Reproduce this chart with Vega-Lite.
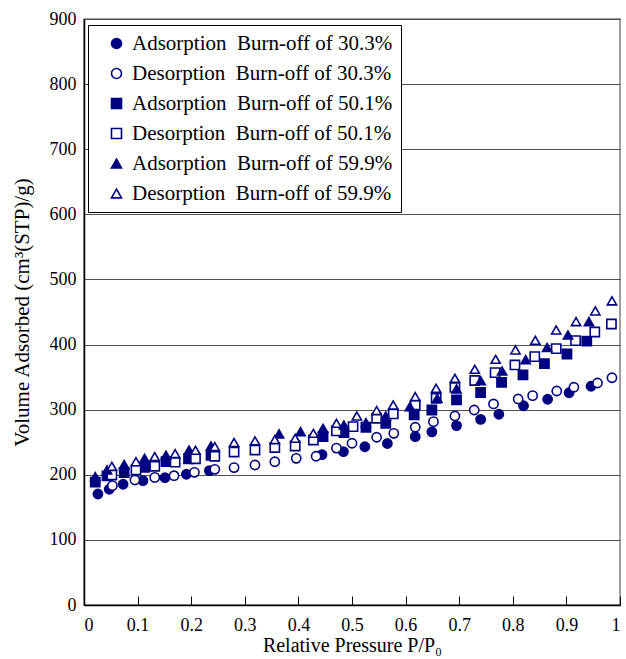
{
  "$schema": "https://vega.github.io/schema/vega-lite/v6.json",
  "autosize": "none",
  "width": 536,
  "height": 586,
  "padding": {"left": 84, "top": 19, "right": 6, "bottom": 54},
  "background": "white",
  "config": {
    "view": {"stroke": "#808080", "strokeWidth": 1.5},
    "font": "Liberation Serif",
    "axis": {
      "labelFont": "Liberation Serif",
      "titleFont": "Liberation Serif",
      "labelColor": "black",
      "titleColor": "black",
      "titleFontWeight": "normal",
      "labelFontSize": 18,
      "titleFontSize": 21,
      "domainColor": "black",
      "domainWidth": 1.5,
      "tickColor": "black"
    },
    "legend": {
      "title": null,
      "orient": "none",
      "legendX": 4,
      "legendY": 6,
      "strokeColor": "black",
      "fillColor": "white",
      "padding": 8,
      "symbolOffset": 10,
      "symbolSize": 100,
      "symbolStrokeColor": "#000080",
      "symbolStrokeWidth": 1.6,
      "labelFont": "Liberation Serif",
      "labelFontSize": 21,
      "labelColor": "black",
      "labelOffset": 5,
      "labelLimit": 400,
      "rowPadding": 8
    }
  },
  "data": {
    "values": [
      {"s":"a30","x":0.026,"y":170.5},{"s":"a30","x":0.047,"y":177.7},{"s":"a30","x":0.073,"y":185.4},{"s":"a30","x":0.11,"y":191},{"s":"a30","x":0.151,"y":195.5},{"s":"a30","x":0.191,"y":200.8},{"s":"a30","x":0.234,"y":206.3},{"s":"a30","x":0.444,"y":231},{"s":"a30","x":0.484,"y":235.5},{"s":"a30","x":0.524,"y":243},{"s":"a30","x":0.566,"y":248},{"s":"a30","x":0.618,"y":258.5},{"s":"a30","x":0.649,"y":266},{"s":"a30","x":0.695,"y":275.5},{"s":"a30","x":0.74,"y":285},{"s":"a30","x":0.774,"y":293},{"s":"a30","x":0.82,"y":306},{"s":"a30","x":0.865,"y":316},{"s":"a30","x":0.905,"y":326},{"s":"a30","x":0.946,"y":336},
      {"s":"d30","x":0.053,"y":183.3},{"s":"d30","x":0.095,"y":192},{"s":"d30","x":0.132,"y":196},{"s":"d30","x":0.168,"y":198.6},{"s":"d30","x":0.206,"y":203.8},{"s":"d30","x":0.244,"y":208.4},{"s":"d30","x":0.28,"y":211},{"s":"d30","x":0.319,"y":215},{"s":"d30","x":0.356,"y":220},{"s":"d30","x":0.396,"y":225.3},{"s":"d30","x":0.433,"y":228.5},{"s":"d30","x":0.471,"y":241},{"s":"d30","x":0.5,"y":248.4},{"s":"d30","x":0.546,"y":257.6},{"s":"d30","x":0.578,"y":263.7},{"s":"d30","x":0.618,"y":273},{"s":"d30","x":0.652,"y":281.6},{"s":"d30","x":0.692,"y":290.3},{"s":"d30","x":0.728,"y":299.5},{"s":"d30","x":0.764,"y":308.8},{"s":"d30","x":0.81,"y":316.4},{"s":"d30","x":0.837,"y":321.5},{"s":"d30","x":0.882,"y":328.7},{"s":"d30","x":0.914,"y":334.4},{"s":"d30","x":0.958,"y":341},{"s":"d30","x":0.985,"y":349},
      {"s":"a50","x":0.021,"y":188.6},{"s":"a50","x":0.043,"y":198.2},{"s":"a50","x":0.075,"y":203.5},{"s":"a50","x":0.113,"y":211.5},{"s":"a50","x":0.153,"y":220.1},{"s":"a50","x":0.195,"y":224.6},{"s":"a50","x":0.237,"y":230},{"s":"a50","x":0.446,"y":258.5},{"s":"a50","x":0.485,"y":264.7},{"s":"a50","x":0.526,"y":273},{"s":"a50","x":0.563,"y":279.1},{"s":"a50","x":0.616,"y":291.9},{"s":"a50","x":0.649,"y":299.5},{"s":"a50","x":0.695,"y":315},{"s":"a50","x":0.74,"y":326.4},{"s":"a50","x":0.779,"y":341.8},{"s":"a50","x":0.819,"y":353.3},{"s":"a50","x":0.859,"y":370.7},{"s":"a50","x":0.901,"y":385.5},{"s":"a50","x":0.938,"y":405.2},
      {"s":"d50","x":0.052,"y":199.7},{"s":"d50","x":0.097,"y":207.4},{"s":"d50","x":0.132,"y":213},{"s":"d50","x":0.17,"y":219.3},{"s":"d50","x":0.208,"y":224.6},{"s":"d50","x":0.244,"y":228.4},{"s":"d50","x":0.28,"y":235},{"s":"d50","x":0.319,"y":238.1},{"s":"d50","x":0.356,"y":241.8},{"s":"d50","x":0.394,"y":244.2},{"s":"d50","x":0.428,"y":253.4},{"s":"d50","x":0.471,"y":267.3},{"s":"d50","x":0.502,"y":273.9},{"s":"d50","x":0.546,"y":286.8},{"s":"d50","x":0.577,"y":293.4},{"s":"d50","x":0.618,"y":307.2},{"s":"d50","x":0.657,"y":317.5},{"s":"d50","x":0.692,"y":334.1},{"s":"d50","x":0.729,"y":344.8},{"s":"d50","x":0.767,"y":356.8},{"s":"d50","x":0.804,"y":368.7},{"s":"d50","x":0.841,"y":381.4},{"s":"d50","x":0.881,"y":393.7},{"s":"d50","x":0.917,"y":406},{"s":"d50","x":0.953,"y":419.3},{"s":"d50","x":0.984,"y":431.6},
      {"s":"a60","x":0.021,"y":197.1},{"s":"a60","x":0.043,"y":207.4},{"s":"a60","x":0.075,"y":215.8},{"s":"a60","x":0.113,"y":225.3},{"s":"a60","x":0.153,"y":230},{"s":"a60","x":0.196,"y":238.1},{"s":"a60","x":0.237,"y":244.2},{"s":"a60","x":0.364,"y":262.7},{"s":"a60","x":0.404,"y":266.2},{"s":"a60","x":0.446,"y":271.4},{"s":"a60","x":0.485,"y":276.5},{"s":"a60","x":0.526,"y":280},{"s":"a60","x":0.563,"y":290.3},{"s":"a60","x":0.608,"y":304.6},{"s":"a60","x":0.659,"y":317.5},{"s":"a60","x":0.695,"y":331.8},{"s":"a60","x":0.74,"y":344.5},{"s":"a60","x":0.78,"y":359.4},{"s":"a60","x":0.824,"y":376.8},{"s":"a60","x":0.864,"y":395.5},{"s":"a60","x":0.903,"y":414.7},{"s":"a60","x":0.942,"y":435.2},
      {"s":"d60","x":0.052,"y":213},{"s":"d60","x":0.097,"y":220.1},{"s":"d60","x":0.132,"y":227.8},{"s":"d60","x":0.17,"y":232.4},{"s":"d60","x":0.208,"y":237.6},{"s":"d60","x":0.244,"y":243.2},{"s":"d60","x":0.28,"y":249.6},{"s":"d60","x":0.319,"y":252.2},{"s":"d60","x":0.356,"y":254},{"s":"d60","x":0.394,"y":256},{"s":"d60","x":0.428,"y":263.7},{"s":"d60","x":0.471,"y":279.1},{"s":"d60","x":0.509,"y":290.3},{"s":"d60","x":0.546,"y":298.5},{"s":"d60","x":0.577,"y":307.2},{"s":"d60","x":0.618,"y":320},{"s":"d60","x":0.657,"y":332.9},{"s":"d60","x":0.692,"y":348.2},{"s":"d60","x":0.729,"y":362},{"s":"d60","x":0.768,"y":377.4},{"s":"d60","x":0.805,"y":391.7},{"s":"d60","x":0.842,"y":406.5},{"s":"d60","x":0.881,"y":422.4},{"s":"d60","x":0.918,"y":435.2},{"s":"d60","x":0.954,"y":451.6},{"s":"d60","x":0.985,"y":467}
    ]
  },
  "mark": {"type": "point", "filled": true, "strokeWidth": 1.6, "size": 85, "opacity": 1},
  "encoding": {
    "x": {
      "field": "x", "type": "quantitative",
      "scale": {"domain": [0, 1], "nice": false},
      "axis": {
        "title": "Relative Pressure P/P₀",
        "values": [0, 0.1, 0.2, 0.3, 0.4, 0.5, 0.6, 0.7, 0.8, 0.9, 1],
        "format": ".1~f",
        "grid": false,
        "tickSize": -9,
        "labelPadding": 20,
        "titlePadding": 1,
        "titleFontSize": 20
      }
    },
    "y": {
      "field": "y", "type": "quantitative",
      "scale": {"domain": [0, 900], "nice": false},
      "axis": {
        "title": "Volume Adsorbed (cm³(STP)/g)",
        "values": [0, 100, 200, 300, 400, 500, 600, 700, 800, 900],
        "grid": true,
        "gridColor": "#505050",
        "gridWidth": 1.2,
        "ticks": false,
        "labelPadding": 8,
        "titlePadding": 17
      }
    },
    "shape": {
      "field": "s", "type": "nominal",
      "scale": {"domain": ["a30", "d30", "a50", "d50", "a60", "d60"], "range": ["circle", "circle", "square", "square", "triangle-up", "triangle-up"]},
      "legend": {
        "labelExpr": "{'a30':'Adsorption\u00a0 Burn-off of 30.3%','d30':'Desorption\u00a0 Burn-off of 30.3%','a50':'Adsorption\u00a0 Burn-off of 50.1%','d50':'Desorption\u00a0 Burn-off of 50.1%','a60':'Adsorption\u00a0 Burn-off of 59.9%','d60':'Desorption\u00a0 Burn-off of 59.9%'}[datum.label]"
      }
    },
    "fill": {
      "field": "s", "type": "nominal",
      "scale": {"domain": ["a30", "d30", "a50", "d50", "a60", "d60"], "range": ["#000080", "white", "#000080", "white", "#000080", "white"]},
      "legend": {
        "labelExpr": "{'a30':'Adsorption\u00a0 Burn-off of 30.3%','d30':'Desorption\u00a0 Burn-off of 30.3%','a50':'Adsorption\u00a0 Burn-off of 50.1%','d50':'Desorption\u00a0 Burn-off of 50.1%','a60':'Adsorption\u00a0 Burn-off of 59.9%','d60':'Desorption\u00a0 Burn-off of 59.9%'}[datum.label]"
      }
    },
    "stroke": {
      "field": "s", "type": "nominal",
      "scale": {"domain": ["a30", "d30", "a50", "d50", "a60", "d60"], "range": ["#000080", "#000080", "#000080", "#000080", "#000080", "#000080"]},
      "legend": {
        "labelExpr": "{'a30':'Adsorption\u00a0 Burn-off of 30.3%','d30':'Desorption\u00a0 Burn-off of 30.3%','a50':'Adsorption\u00a0 Burn-off of 50.1%','d50':'Desorption\u00a0 Burn-off of 50.1%','a60':'Adsorption\u00a0 Burn-off of 59.9%','d60':'Desorption\u00a0 Burn-off of 59.9%'}[datum.label]"
      }
    }
  }
}
